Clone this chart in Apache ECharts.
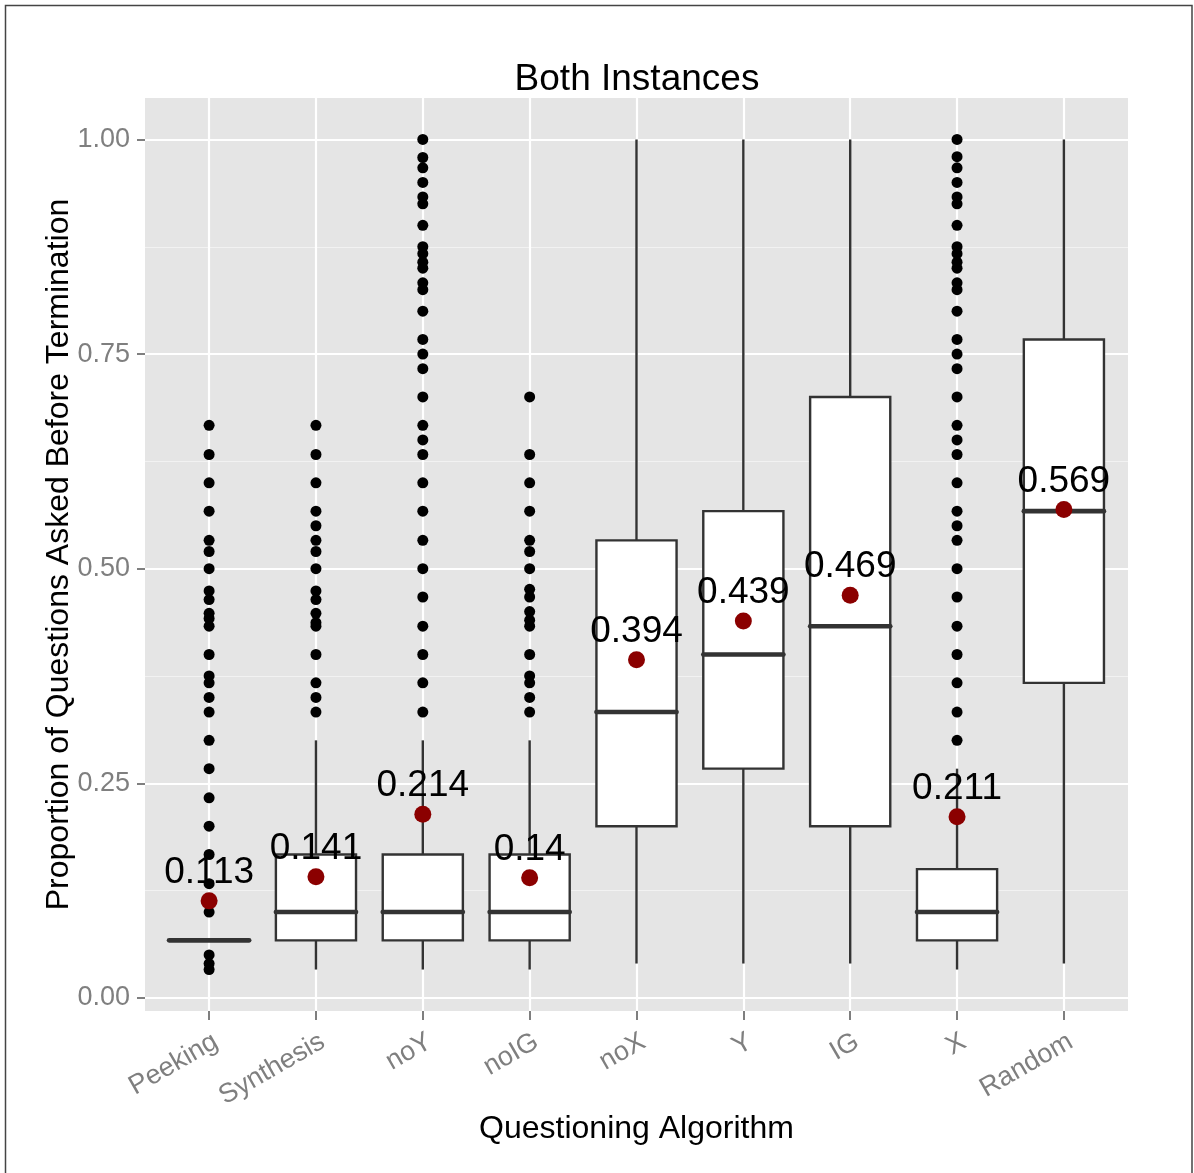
<!DOCTYPE html>
<html>
<head>
<meta charset="utf-8">
<script src="https://cdn.jsdelivr.net/npm/echarts@6/dist/echarts.min.js"></script>
<style>
html, body { margin: 0; padding: 0; background: #ffffff; }
#chart { width: 1194px; height: 1173px; }
</style>
</head>
<body>
<div id="chart"></div>
<script>
// categories along the x axis
const categories = ['Peeking', 'Synthesis', 'noY', 'noIG', 'noX', 'Y', 'IG', 'X', 'Random'];

// box statistics per category
const boxLow    = [0.067, 0.033, 0.033, 0.033, 0.04,  0.04,  0.04,  0.033, 0.04];
const boxQ1     = [0.067, 0.067, 0.067, 0.067, 0.2,   0.267, 0.2,   0.067, 0.367];
const boxMedian = [0.067, 0.1,   0.1,   0.1,   0.333, 0.4,   0.433, 0.1,   0.567];
const boxQ3     = [0.067, 0.167, 0.167, 0.167, 0.533, 0.567, 0.7,   0.15,  0.767];
const boxHigh   = [0.067, 0.3,   0.3,   0.3,   1.0,   1.0,   1.0,   0.267, 1.0];

// mean per category (red dots + labels)
const means = [0.113, 0.141, 0.214, 0.14, 0.394, 0.439, 0.469, 0.211, 0.569];

// outliers
const outPeeking = [0.667, 0.633, 0.6, 0.567, 0.533, 0.52, 0.5, 0.474, 0.464, 0.448, 0.442, 0.433,
  0.4, 0.375, 0.367, 0.35, 0.333, 0.3, 0.267, 0.233, 0.2, 0.167, 0.133, 0.1, 0.05, 0.04, 0.033];
const outSynthesis = [0.667, 0.633, 0.6, 0.567, 0.55, 0.533, 0.52, 0.5, 0.474, 0.464, 0.448, 0.437,
  0.433, 0.4, 0.367, 0.35, 0.333];
const outNoY = [1.0, 0.979, 0.967, 0.95, 0.933, 0.925, 0.9, 0.875, 0.867, 0.857, 0.85, 0.833, 0.825,
  0.8, 0.767, 0.75, 0.733, 0.7, 0.667, 0.65, 0.633, 0.6, 0.567, 0.533, 0.5, 0.467, 0.433, 0.4, 0.367, 0.333];
const outNoIG = [0.7, 0.633, 0.6, 0.567, 0.533, 0.52, 0.5, 0.476, 0.467, 0.45, 0.44, 0.433, 0.4,
  0.375, 0.367, 0.35, 0.333];
const outX = [1.0, 0.98, 0.967, 0.95, 0.933, 0.925, 0.9, 0.875, 0.867, 0.857, 0.85, 0.833, 0.825, 0.8,
  0.767, 0.75, 0.733, 0.7, 0.667, 0.65, 0.633, 0.6, 0.567, 0.55, 0.533, 0.5, 0.467, 0.433, 0.4, 0.367, 0.333, 0.3];

// axis ticks
const yTicks = [0, 0.25, 0.5, 0.75, 1];
const yMinorTicks = [0.125, 0.375, 0.625, 0.875];
const xTicks = categories.map((c, i) => i);

const outlierGroups = [
  [0, outPeeking], [1, outSynthesis], [2, outNoY], [3, outNoIG], [7, outX]
];

const boxData = categories.map((c, i) => [i, boxLow[i], boxQ1[i], boxMedian[i], boxQ3[i], boxHigh[i]]);
const outlierData = [];
outlierGroups.forEach(([i, vals]) => vals.forEach(v => outlierData.push([i, v])));
const meanData = means.map((m, i) => [i, m]);

const FONT = '"Liberation Sans", Arial, Helvetica, sans-serif';
const GREY = '#7F7F7F';
const BOX_LINE = '#333333';

const myChart = echarts.init(document.getElementById('chart'), null, { renderer: 'canvas' });

const option = {
  animation: false,
  backgroundColor: '#ffffff',
  textStyle: { fontFamily: FONT },
  title: {
    text: 'Both Instances',
    left: 632,
    textAlign: 'center',
    top: 56,
    textStyle: { fontFamily: FONT, fontSize: 37, fontWeight: 'normal', color: '#000' }
  },
  graphic: [{
    type: 'rect',
    silent: true,
    shape: { x: 5.5, y: 5.5, width: 1186.5, height: 1200 },
    style: { fill: 'none', stroke: '#444', lineWidth: 1.5 }
  }],
  grid: {
    left: 145, top: 98, width: 983, height: 913,
    show: true, backgroundColor: '#E5E5E5', borderWidth: 0
  },
  xAxis: {
    type: 'value',
    min: -0.6, max: 8.6,
    name: 'Questioning Algorithm',
    nameLocation: 'middle',
    nameGap: 102,
    nameMoveOverlap: false,
    nameTextStyle: { fontFamily: FONT, fontSize: 32, color: '#000' },
    axisLine: { show: false, onZero: false },
    axisTick: { show: true, length: 9, customValues: xTicks, lineStyle: { color: GREY, width: 2 } },
    axisLabel: {
      customValues: xTicks,
      rotate: 30,
      margin: 17,
      verticalAlign: 'top',
      color: GREY,
      fontSize: 27,
      fontFamily: FONT,
      formatter: v => categories[Math.round(v)]
    },
    splitLine: { show: true, lineStyle: { color: '#ffffff', width: 2.2 } }
  },
  yAxis: [{
    type: 'value',
    min: -0.0153, max: 1.0483,
    name: 'Proportion of Questions Asked Before Termination',
    nameLocation: 'middle',
    nameGap: 70,
    nameMoveOverlap: false,
    nameTextStyle: { fontFamily: FONT, fontSize: 32, color: '#000' },
    axisLine: { show: false, onZero: false },
    axisTick: { show: true, length: 8, customValues: yTicks, lineStyle: { color: GREY, width: 2 } },
    axisLabel: {
      customValues: yTicks,
      margin: 15,
      color: GREY,
      fontSize: 27,
      fontFamily: FONT,
      formatter: v => v.toFixed(2)
    },
    splitLine: { show: true, lineStyle: { color: '#ffffff', width: 2.2 } }
  }, {
    type: 'value',
    min: -0.0153, max: 1.0483,
    position: 'left',
    axisLine: { show: false, onZero: false },
    axisTick: { show: false, customValues: yMinorTicks },
    axisLabel: { show: false, customValues: yMinorTicks },
    splitLine: { show: true, lineStyle: { color: '#F2F2F2', width: 1.2 } }
  }],
  series: [{
    type: 'custom',
    name: 'box',
    z: 2,
    data: boxData,
    encode: { x: 0, y: [1, 2, 3, 4, 5] },
    renderItem: function (params, api) {
      const x = api.value(0);
      const half = api.size([0.75, 0])[0] / 2;
      const pLow = api.coord([x, api.value(1)]);
      const pQ1 = api.coord([x, api.value(2)]);
      const pMed = api.coord([x, api.value(3)]);
      const pQ3 = api.coord([x, api.value(4)]);
      const pHigh = api.coord([x, api.value(5)]);
      const ls = { stroke: BOX_LINE, lineWidth: 2.4 };
      return {
        type: 'group',
        children: [
          { type: 'line', shape: { x1: pLow[0], y1: pLow[1], x2: pQ1[0], y2: pQ1[1] }, style: ls },
          { type: 'line', shape: { x1: pQ3[0], y1: pQ3[1], x2: pHigh[0], y2: pHigh[1] }, style: ls },
          {
            type: 'rect',
            shape: { x: pQ3[0] - half, y: pQ3[1], width: half * 2, height: pQ1[1] - pQ3[1] },
            style: { fill: '#ffffff', stroke: BOX_LINE, lineWidth: 2.4 }
          },
          {
            type: 'line',
            shape: { x1: pMed[0] - half, y1: pMed[1], x2: pMed[0] + half, y2: pMed[1] },
            style: { stroke: BOX_LINE, lineWidth: 4.6, lineCap: 'round' }
          }
        ]
      };
    }
  }, {
    type: 'scatter',
    name: 'outliers',
    z: 3,
    symbol: 'circle',
    symbolSize: 11,
    itemStyle: { color: '#000000', opacity: 1 },
    data: outlierData
  }, {
    type: 'scatter',
    name: 'mean',
    z: 4,
    symbol: 'circle',
    symbolSize: 17,
    itemStyle: { color: '#8B0000', opacity: 1 },
    label: {
      show: true,
      position: 'top',
      distance: 1,
      fontFamily: FONT,
      fontSize: 37,
      color: '#000000',
      formatter: p => String(p.value[1])
    },
    data: meanData
  }]
};

myChart.setOption(option);
</script>
</body>
</html>
